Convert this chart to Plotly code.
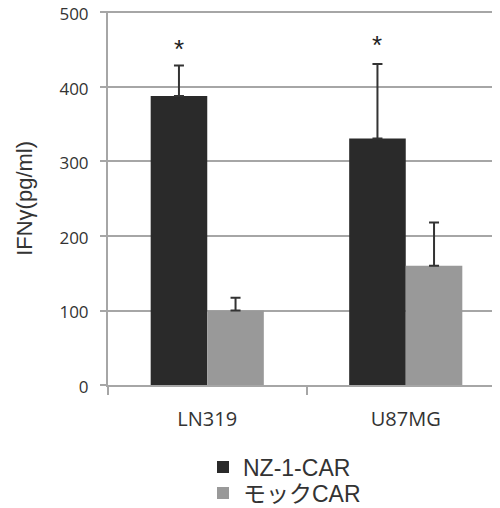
import plotly.graph_objects as go

categories = ["LN319", "U87MG"]
series_names = ["NZ-1-CAR", "モックCAR"]
nz1_values = [388, 331]
nz1_errors = [41, 100]
mock_values = [100, 160]
mock_errors = [17, 58]
sig_labels = ["*", "*"]
sig_heights = [456, 462]
y_ticks = [0, 100, 200, 300, 400, 500]
y_title = "IFNγ(pg/ml)"

BARGAP = 0.43
colors = ["#2a2a2a", "#999999"]
legend_ids = ["legend", "legend2"]

fig = go.Figure()
for name, vals, errs, col, lg in [
    (series_names[0], nz1_values, nz1_errors, colors[0], legend_ids[0]),
    (series_names[1], mock_values, mock_errors, colors[1], legend_ids[1]),
]:
    fig.add_trace(go.Bar(
        x=categories, y=vals, name=name, legend=lg,
        marker=dict(color=col, line=dict(width=0)),
        error_y=dict(type="data", array=errs, arrayminus=[0] * len(errs),
                     symmetric=False, color="#333333", thickness=2, width=5),
    ))

off = (1 - BARGAP) / 4
for i, (lab, h) in enumerate(zip(sig_labels, sig_heights)):
    fig.add_annotation(x=i - off, y=h, text=lab, showarrow=False,
                       font=dict(size=26, color="#222222", family="Liberation Sans"),
                       yanchor="middle", yshift=-4)

fig.add_annotation(xref="paper", yref="paper", x=-0.212, y=0.5, text=y_title,
                   textangle=-90, showarrow=False, xanchor="center", yanchor="middle",
                   font=dict(size=22, color="#333333", family="Liberation Sans"))

leg_common = dict(xref="container", yref="container", x=0.39,
                  xanchor="left", yanchor="top",
                  font=dict(size=23, color="#333333",
                            family="Liberation Sans, Noto Sans CJK JP"),
                  bgcolor="rgba(0,0,0,0)")

fig.update_layout(
    width=500, height=508,
    margin=dict(l=100, r=3, t=2.5, b=131, autoexpand=False),
    paper_bgcolor="white", plot_bgcolor="white",
    barmode="group", bargap=BARGAP, bargroupgap=0,
    showlegend=True,
    legend=dict(y=1 - 437.5 / 508, **leg_common),
    legend2=dict(y=1 - 463.5 / 508, **leg_common),
    xaxis=dict(range=[-0.5, 1.5], showline=True, linecolor="#a6a6a6", linewidth=2,
               ticks="outside", tickson="boundaries", ticklen=8, tickcolor="#a6a6a6",
               tickwidth=2, showgrid=False, automargin=False, tickangle=0,
               tickfont=dict(size=20, color="#333333", family="Open Sans"),
               ticklabelstandoff=15),
    yaxis=dict(range=[0, 502], tickvals=y_ticks, showline=True, linecolor="#a6a6a6",
               linewidth=2, ticks="outside", ticklen=6, tickcolor="#a6a6a6", tickwidth=2,
               showgrid=True, gridcolor="#a6a6a6", gridwidth=2, zeroline=False,
               automargin=False, ticklabeloverflow="allow", ticklabelshift=2,
               tickfont=dict(size=17, color="#333333", family="Open Sans"),
               ticklabelstandoff=8),
)

fig.write_html("out.html")
